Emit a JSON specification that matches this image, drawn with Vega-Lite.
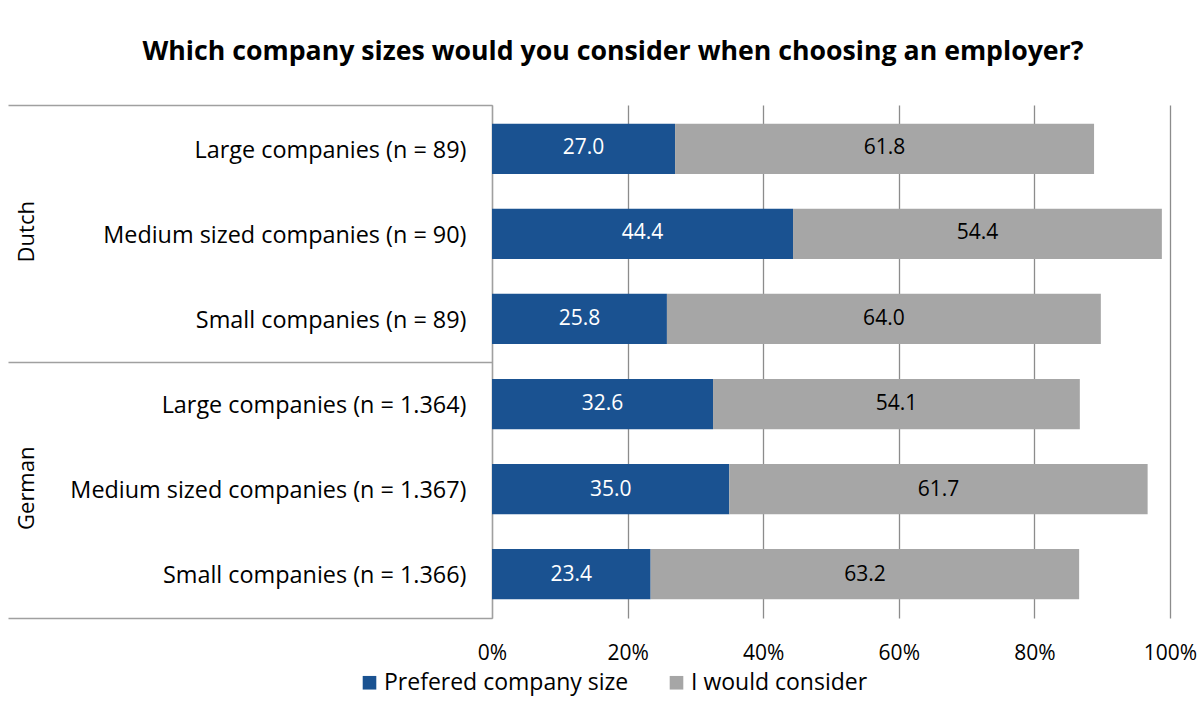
{
  "$schema": "https://vega.github.io/schema/vega-lite/v6.json",
  "width": 678,
  "height": 513,
  "autosize": "none",
  "padding": {"left": 492, "top": 105, "right": 31, "bottom": 97},
  "title": {
    "text": "Which company sizes would you consider when choosing an employer?",
    "font": "Open Sans",
    "fontSize": 26.7,
    "fontWeight": "bold",
    "color": "#000000",
    "anchor": "middle",
    "frame": "group",
    "baseline": "alphabetic",
    "offset": 43,
    "dx": -218,
    "dy": 27
  },
  "data": {
    "values": [
      {"group": "Dutch", "cat": "Large companies (n = 89)", "series": "Prefered company size", "value": 27.0},
      {"group": "Dutch", "cat": "Large companies (n = 89)", "series": "I would consider", "value": 61.8},
      {"group": "Dutch", "cat": "Medium sized companies (n = 90)", "series": "Prefered company size", "value": 44.4},
      {"group": "Dutch", "cat": "Medium sized companies (n = 90)", "series": "I would consider", "value": 54.4},
      {"group": "Dutch", "cat": "Small companies (n = 89)", "series": "Prefered company size", "value": 25.8},
      {"group": "Dutch", "cat": "Small companies (n = 89)", "series": "I would consider", "value": 64.0},
      {"group": "German", "cat": "Large companies (n = 1.364)", "series": "Prefered company size", "value": 32.6},
      {"group": "German", "cat": "Large companies (n = 1.364)", "series": "I would consider", "value": 54.1},
      {"group": "German", "cat": "Medium sized companies (n = 1.367)", "series": "Prefered company size", "value": 35.0},
      {"group": "German", "cat": "Medium sized companies (n = 1.367)", "series": "I would consider", "value": 61.7},
      {"group": "German", "cat": "Small companies (n = 1.366)", "series": "Prefered company size", "value": 23.4},
      {"group": "German", "cat": "Small companies (n = 1.366)", "series": "I would consider", "value": 63.2}
    ]
  },
  "transform": [
    {"stack": "value", "groupby": ["cat"], "sort": [{"field": "series", "order": "descending"}], "as": ["v0", "v1"]},
    {"calculate": "(datum.v0 + datum.v1) / 2", "as": "vmid"}
  ],
  "config": {
    "view": {"stroke": null},
    "font": "Open Sans"
  },
  "resolve": {"scale": {"y": "independent"}, "axis": {"y": "independent"}},
  "layer": [
    {
      "mark": {"type": "bar"},
      "encoding": {
        "y": {
          "field": "cat",
          "type": "nominal",
          "sort": null,
          "scale": {"paddingInner": 0.41, "paddingOuter": 0.22},
          "axis": {
            "orient": "left",
            "title": null,
            "ticks": false,
            "domain": true,
            "domainColor": "#A0A0A0",
            "domainWidth": 1.3,
            "labelFont": "Open Sans",
            "labelFontSize": 23.4,
            "labelColor": "#000000",
            "labelPadding": 26,
            "labelOffset": 2,
            "labelLimit": 500
          }
        },
        "x": {
          "field": "v0",
          "type": "quantitative",
          "scale": {"domain": [0, 100], "nice": false},
          "axis": {
            "title": null,
            "values": [0, 20, 40, 60, 80, 100],
            "labelExpr": "datum.value + '%'",
            "grid": true,
            "gridColor": "#8C8C8C",
            "gridWidth": 1.3,
            "ticks": false,
            "domain": false,
            "labelFont": "Open Sans",
            "labelFontSize": 21,
            "labelColor": "#000000",
            "labelPadding": 24,
            "labelFlush": false
          }
        },
        "x2": {"field": "v1"},
        "color": {
          "field": "series",
          "type": "nominal",
          "scale": {
            "domain": ["Prefered company size", "I would consider"],
            "range": ["#1A5291", "#A6A6A6"]
          },
          "legend": {
            "title": null,
            "orient": "none",
            "legendX": -134,
            "legendY": 566,
            "direction": "horizontal",
            "symbolType": "square",
            "symbolSize": 185,
            "symbolStrokeWidth": 0,
            "labelFont": "Open Sans",
            "labelFontSize": 23,
            "labelColor": "#000000",
            "columnPadding": 36,
            "labelOffset": 3,
            "labelLimit": 400
          }
        }
      }
    },
    {
      "mark": {"type": "text", "font": "Open Sans", "fontSize": 21},
      "encoding": {
        "y": {"field": "cat", "type": "nominal", "sort": null, "scale": {"paddingInner": 0.41, "paddingOuter": 0.22}, "axis": null},
        "x": {"field": "vmid", "type": "quantitative"},
        "text": {"field": "value", "type": "quantitative", "format": ".1f"},
        "color": {
          "condition": {"test": "datum.series == 'Prefered company size'", "value": "#FFFFFF"},
          "value": "#000000"
        }
      }
    },
    {
      "mark": {"type": "point", "opacity": 0},
      "encoding": {
        "y": {
          "datum": 0,
          "type": "quantitative",
          "scale": {"domain": [0, 6], "reverse": true, "nice": false, "zero": false},
          "axis": {
            "orient": "left",
            "title": null,
            "values": [0, 1.5, 3, 4.5, 6],
            "domain": false,
            "grid": false,
            "tickSize": 484,
            "tickColor": "#A0A0A0",
            "tickWidth": 1.3,
            "tickOpacity": {"condition": {"test": "datum.value == 1.5 || datum.value == 4.5", "value": 0}, "value": 1},
            "labelExpr": "datum.value == 1.5 ? 'Dutch' : datum.value == 4.5 ? 'German' : ''",
            "labelAngle": -90,
            "labelAlign": "center",
            "labelBaseline": "middle",
            "labelPadding": -18,
            "labelOffset": -2,
            "labelFont": "Open Sans",
            "labelFontSize": 22,
            "labelColor": "#000000",
            "labelOverlap": false,
            "labelFlush": false
          }
        }
      }
    }
  ]
}
